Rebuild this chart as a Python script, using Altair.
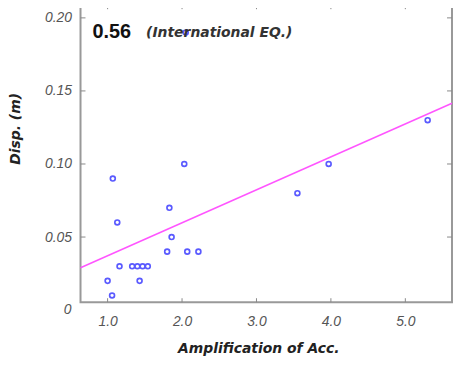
import altair as alt
import pandas as pd

# Scatter points
amp = [1.00, 1.06, 1.07, 1.13, 1.16, 1.33, 1.40, 1.43, 1.47, 1.54,
       1.80, 1.83, 1.86, 2.03, 2.07, 2.22, 3.55, 3.97, 5.30, 2.05]
disp = [0.02, 0.01, 0.09, 0.06, 0.03, 0.03, 0.03, 0.02, 0.03, 0.03,
        0.04, 0.07, 0.05, 0.10, 0.04, 0.04, 0.08, 0.10, 0.13, 0.19]

# Fitted line endpoints
fit_x = [0.636, 5.627]
fit_y = [0.0290, 0.1416]

x_ticks = [1, 2, 3, 4, 5]
y_ticks = [0.05, 0.10, 0.15, 0.20]
x_domain = [0.636, 5.627]
y_domain = [0.0054, 0.208]

W, H = 374, 298
LABEL_FONT = "Liberation Sans"
TITLE_FONT = "DejaVu Sans"

pts = pd.DataFrame({"amp": amp, "disp": disp})
fit = pd.DataFrame({"amp": fit_x, "disp": fit_y})
xt = pd.DataFrame({"v": x_ticks})
yt = pd.DataFrame({"v": y_ticks})
zero = pd.DataFrame({"v": [0.0], "t": ["0"]})

xs = alt.Scale(domain=x_domain, nice=False, zero=False)
ys = alt.Scale(domain=y_domain, nice=False, zero=False)

xaxis = alt.Axis(values=x_ticks, format=".1f", title="Amplification of Acc.",
                 grid=False, ticks=False, domain=False,
                 labelFont=LABEL_FONT, labelFontSize=14, labelFontStyle="italic",
                 labelColor="#555555", labelPadding=12,
                 titleFont=TITLE_FONT, titleFontSize=14, titleFontStyle="italic",
                 titleFontWeight="bold", titleColor="#222222", titlePadding=14,
                 titleX=179, titleAlign="center")
yaxis = alt.Axis(values=y_ticks, format=".2f", title="Disp. (m)",
                 grid=False, ticks=False, domain=False,
                 labelFont=LABEL_FONT, labelFontSize=14, labelFontStyle="italic",
                 labelColor="#555555", labelPadding=9,
                 titleFont=TITLE_FONT, titleFontSize=14, titleFontStyle="italic",
                 titleFontWeight="bold", titleColor="#222222",
                 titleX=-58, titleY=123)

line = alt.Chart(fit).mark_line(color="#ff55ff", strokeWidth=1.5).encode(
    x=alt.X("amp:Q", scale=xs, axis=xaxis),
    y=alt.Y("disp:Q", scale=ys, axis=yaxis),
)

points = alt.Chart(pts).mark_point(shape="circle", filled=False, color="#5a5aff",
                                    size=24, strokeWidth=1.7, opacity=1).encode(
    x=alt.X("amp:Q", scale=xs),
    y=alt.Y("disp:Q", scale=ys),
)

tick_col = "#888888"
xt_bottom = alt.Chart(xt).mark_rule(color=tick_col, strokeWidth=1).encode(
    x=alt.X("v:Q", scale=xs), y=alt.value(H), y2=alt.value(H - 4))
xt_top = alt.Chart(xt).mark_rule(color=tick_col, strokeWidth=1).encode(
    x=alt.X("v:Q", scale=xs), y=alt.value(0), y2=alt.value(3))
yt_left = alt.Chart(yt).mark_rule(color=tick_col, strokeWidth=1).encode(
    y=alt.Y("v:Q", scale=ys), x=alt.value(0), x2=alt.value(5))
yt_right = alt.Chart(yt).mark_rule(color=tick_col, strokeWidth=1).encode(
    y=alt.Y("v:Q", scale=ys), x=alt.value(W), x2=alt.value(W - 5))

zero_lbl = alt.Chart(zero).mark_text(font=LABEL_FONT, fontSize=14, fontStyle="italic",
                                     color="#555555", align="right",
                                     baseline="middle").encode(
    y=alt.Y("v:Q", scale=ys), x=alt.value(-9), text="t:N")

ann_num = alt.Chart(pd.DataFrame({"t": ["0.56"]})).mark_text(
    font=LABEL_FONT, fontSize=20, fontWeight="bold", color="#111111",
    align="left", baseline="alphabetic").encode(
    x=alt.value(12), y=alt.value(32), text="t:N")
ann_txt = alt.Chart(pd.DataFrame({"t": ["(International EQ.)"]})).mark_text(
    font=TITLE_FONT, fontSize=14, fontWeight="bold", fontStyle="italic",
    color="#333333", align="left", baseline="alphabetic").encode(
    x=alt.value(66), y=alt.value(31), text="t:N")

chart = alt.layer(line, points, xt_bottom, xt_top, yt_left, yt_right,
                  zero_lbl, ann_num, ann_txt).properties(
    width=W, height=H,
    autosize=alt.AutoSizeParams(type="none"),
    padding={"left": 73, "top": -3, "right": 1, "bottom": 56},
).configure_view(stroke="#999999", strokeWidth=2)

chart.save("out.html", embed_options={"renderer": "svg", "actions": False})
